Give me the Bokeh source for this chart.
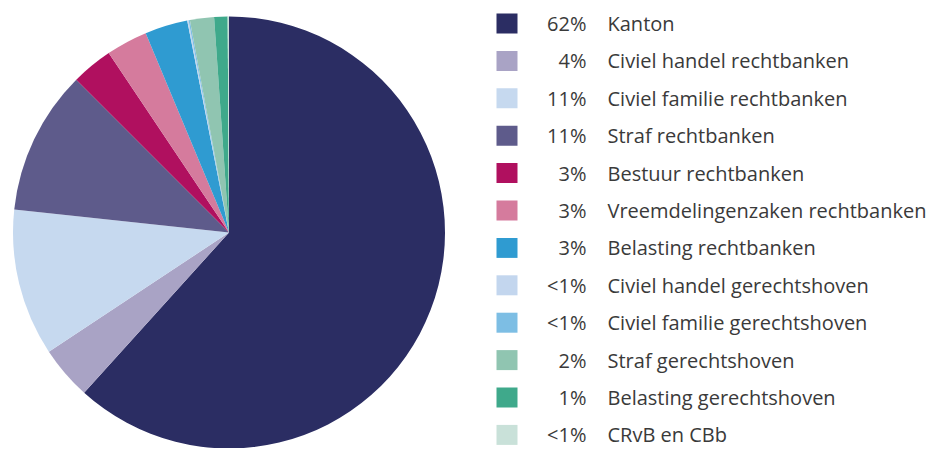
from bokeh.plotting import figure
from bokeh.models import ColumnDataSource, Range1d
from bokeh.core.properties import value
from bokeh.embed import file_html
from bokeh.resources import INLINE
import math

categories = [
    "Kanton",
    "Civiel handel rechtbanken",
    "Civiel familie rechtbanken",
    "Straf rechtbanken",
    "Bestuur rechtbanken",
    "Vreemdelingenzaken rechtbanken",
    "Belasting rechtbanken",
    "Civiel handel gerechtshoven",
    "Civiel familie gerechtshoven",
    "Straf gerechtshoven",
    "Belasting gerechtshoven",
    "CRvB en CBb",
]
shares = [61.7, 4.0, 11.0, 10.8, 3.1, 3.1, 3.2, 0.1, 0.1, 1.8, 1.0, 0.1]
pct_labels = ["62%", "4%", "11%", "11%", "3%", "3%", "3%", "<1%", "<1%", "2%", "1%", "<1%"]
colors = [
    "#2b2d63", "#a9a3c5", "#c6d9ef", "#5e5b8b", "#b0105f", "#d57b9d",
    "#2f9bd1", "#c3d6ee", "#7dbee4", "#90c5b1", "#3fa98b", "#c9e1d9",
]

W, H = 933, 448
p = figure(width=W, height=H, output_backend="svg", toolbar_location=None,
           x_range=Range1d(0, W), y_range=Range1d(0, H), min_border=0)
p.axis.visible = False
p.grid.visible = False
p.outline_line_color = None
p.background_fill_color = "white"
p.border_fill_color = "white"

total = sum(shares)
starts, ends = [], []
cum = 0.0
for s in shares:
    starts.append(math.pi / 2 - 2 * math.pi * cum / total)
    cum += s
    ends.append(math.pi / 2 - 2 * math.pi * cum / total)

cx, cy, r = 228.5, H - 232, 216
src = ColumnDataSource(dict(start=starts, end=ends, color=colors))
p.wedge(x=cx, y=cy, radius=r, start_angle="start", end_angle="end",
        direction="clock", fill_color="color", line_color=None, source=src)

n = len(categories)
ys = [H - (23 + 37.4 * i) for i in range(n)]
leg = ColumnDataSource(dict(y=ys, color=colors, pct=pct_labels, cat=categories))
p.rect(x=506.5, y="y", width=21, height=20, fill_color="color", line_color=None, source=leg)
p.text(x=586, y="y", text="pct", text_align="right", text_baseline="middle",
       text_font=value("Open Sans"), text_font_size="20px", text_color="#3a3a3a", source=leg)
p.text(x=607, y="y", text="cat", text_align="left", text_baseline="middle",
       text_font=value("Open Sans"), text_font_size="20px", text_color="#3a3a3a", source=leg)

open("out.html", "w").write(file_html(p, INLINE))
